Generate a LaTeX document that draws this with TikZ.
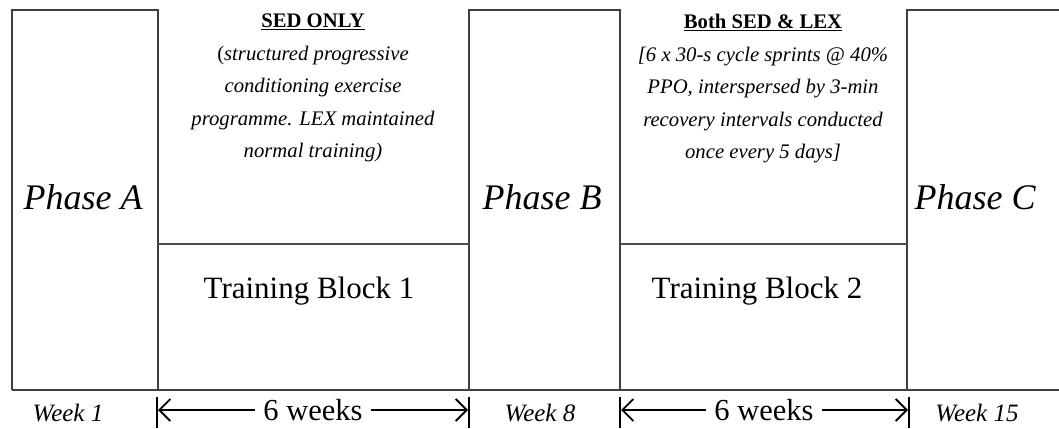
\documentclass[tikz,border=0pt]{standalone}
\usepackage{fontspec}
\setmainfont{Liberation Serif}
\usetikzlibrary{arrows.meta}
\begin{document}
\begin{tikzpicture}[x=1pt,y=-1pt,
  frame/.style={draw=black!75, line width=1.8pt},
  inner/.style={draw=black!70, line width=1.4pt},
  phase/.style={font=\fontsize{36}{40}\selectfont\itshape, inner sep=0pt},
  block/.style={font=\fontsize{31}{34}\selectfont, inner sep=0pt},
  note/.style={font=\fontsize{20.7}{32.5}\selectfont\itshape, align=center, inner sep=0pt, anchor=north},
  week/.style={font=\fontsize{25}{28}\selectfont\itshape, inner sep=0pt},
  dur/.style={font=\fontsize{30.5}{34}\selectfont, inner xsep=8pt, inner ysep=2pt},
  bar/.style={line width=2.6pt, black},
  dim/.style={line width=1.8pt, black, -{Straight Barb[length=11pt, width=22pt, line width=1.8pt]}},
]
\useasboundingbox (0,0) rectangle (1059,428);
% frames
\draw[frame] (12,390) -- (12,10) -- (158,10) -- (158,390);
\draw[frame] (469,390) -- (469,10) -- (620,10) -- (620,390);
\draw[frame] (907,390) -- (907,10) -- (1062,10);
\draw[inner] (158,244) -- (469,244);
\draw[inner] (620,244) -- (907,244);
\draw[frame] (12,390) -- (1062,390);
% phase labels
\node[phase] (pa) at (83,197) {Phase A};
\node[phase] (pb) at (542,197) {Phase B};
\node[phase] (pc) at (975,197) {Phase C};
\node[block] (tb1) at (309,291) {Training Block 1};
\node[block] (tb2) at (757,291) {Training Block 2};
% notes
\node[note] (n1) at (313,14) {{\upshape\bfseries\underline{SED ONLY}}\\
  {\upshape(}structured progressive\\ conditioning exercise\\ programme. LEX maintained\\ normal training)};
\node[note] (n2) at (763,14) {{\upshape\bfseries\underline{Both SED \& LEX}}\\
  {[}6 x 30-s cycle sprints @ 40\%\\ PPO, interspersed by 3-min\\ recovery intervals conducted\\ once every 5 days{]}};
% weeks
\node[week] (w1) at (68,413) {Week 1};
\node[week] (w8) at (540,413) {Week 8};
\node[week] (w15) at (977,413) {Week 15};
% duration arrows
\coordinate (b1t) at (157,397); \coordinate (b1b) at (157,428);
\coordinate (b2t) at (469,397); \coordinate (b2b) at (469,428);
\coordinate (b3t) at (620,397); \coordinate (b3b) at (620,428);
\coordinate (b4t) at (909,397); \coordinate (b4b) at (909,428);
\draw[bar] (b1t) -- (b1b);
\draw[bar] (b2t) -- (b2b);
\draw[bar] (b3t) -- (b3b);
\draw[bar] (b4t) -- (b4b);
\node[dur] (d1) at (313,410) {6 weeks};
\node[dur] (d2) at (764,410) {6 weeks};
\coordinate (a1) at (158,410); \coordinate (a2) at (468,410);
\coordinate (a3) at (621,410); \coordinate (a4) at (908,410);
\draw[dim] (d1.west) -- (a1);
\draw[dim] (d1.east) -- (a2);
\draw[dim] (d2.west) -- (a3);
\draw[dim] (d2.east) -- (a4);
\end{tikzpicture}
\end{document}
